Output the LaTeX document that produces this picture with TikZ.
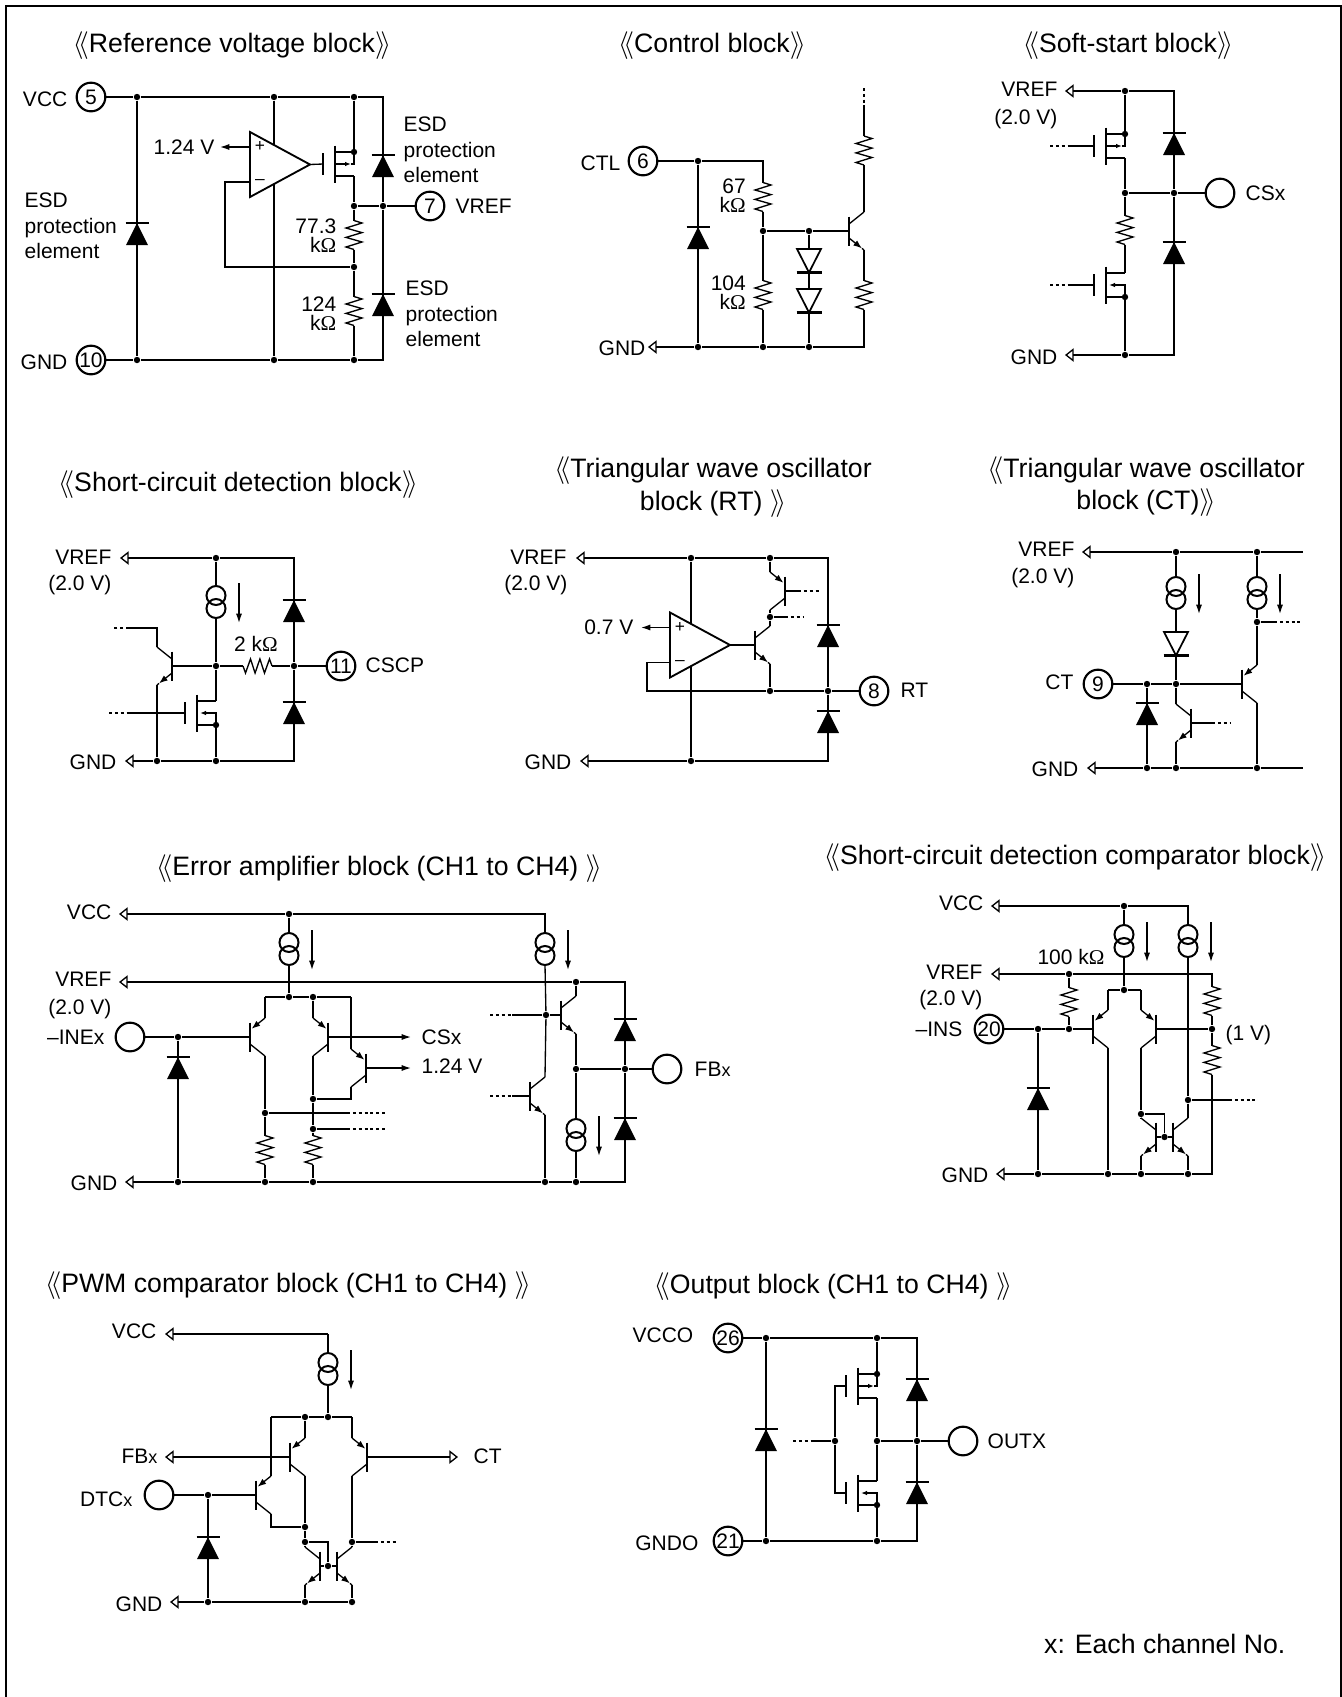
\documentclass[tikz,border=0pt]{standalone}
\usepackage{fontspec}
\setmainfont{Liberation Sans}
\newfontfamily\serfont{Liberation Serif}
\usetikzlibrary{arrows.meta}
\newcommand\lblfont{\fontsize{15.75}{19}\selectfont}
\newcommand\ttlfont{\fontsize{20}{24}\selectfont}
\newcommand\lchev{$\langle\mkern-3.5mu\langle$}
\newcommand\rchev{$\rangle\mkern-3.5mu\rangle$}
\newcommand\ohmsym{{\serfont Ω}}
\newcommand\smx{{\fontsize{13.5}{13.5}\selectfont x}}
\newcommand\Jn[2]{\node[jdot] (#1) at (#2) {};}
\newcommand\Cn[2]{\coordinate (#1) at (#2);}
\tikzset{
 solidtip/.tip={Latex[length=7pt,width=4.6pt]},
 leadtip/.tip={Latex[length=6.5pt,width=4.8pt]},
 mostip/.tip={Latex[length=4.5pt,width=3.4pt]},
 opentip/.tip={Triangle[open,length=6.5pt,width=10pt]},
 jdot/.style={circle,fill=black,inner sep=0pt,minimum size=4.8pt},
 pinc/.style={circle,draw,line width=1.6pt,inner sep=0pt,minimum size=21.5pt,font=\lblfont,text height=11.3pt,text depth=0pt},
 lbl/.style={inner sep=0pt,font=\lblfont,text height=11.3pt,text depth=0pt},
 ttl/.style={inner sep=0pt,font=\ttlfont,text height=14.3pt,text depth=0pt},
 esd/.style={inner sep=0pt,font=\lblfont,align=left,anchor=west},
 rval/.style={inner sep=0pt,font=\fontsize{15.75}{14.25}\selectfont,align=right,anchor=east},
 hbar/.style={line width=1.9pt},
 dotted stub/.style={dash pattern=on 2.2pt off 2.2pt},
 pics/diode/.style={code={
   \coordinate (-k) at (0,0); \coordinate (-a) at (0,22);
   \fill (-11,22) -- (11,22) -- (0,0) -- cycle;
   \draw[hbar] (-11.5,0) -- (11.5,0);}},
 pics/diodedn/.style={code={
   \coordinate (-a) at (0,0); \coordinate (-k) at (0,23.5);
   \draw[fill=white,line width=1.3pt] (-12,0) -- (12,0) -- (0,23.5) -- cycle;
   \draw[hbar] (-12.5,23.5) -- (12.5,23.5);}},
 pics/qnpn/.style={code={
   \coordinate (-b) at (0,0); \coordinate (-c) at (15,-19); \coordinate (-e) at (15,19);
   \draw[hbar] (0,-14.5) -- (0,14.5);
   \draw (0,-7) -- (15,-19);
   \draw[-leadtip] (0,7) -- (13,17.4); \draw (13,17.4) -- (15,19);}},
 pics/qpnp/.style={code={
   \coordinate (-b) at (0,0); \coordinate (-c) at (15,-19); \coordinate (-e) at (15,19);
   \draw[hbar] (0,-14.5) -- (0,14.5);
   \draw (0,7) -- (15,19);
   \draw[-leadtip] (15,-19) -- (1.5,-8.2);}},
 pics/mosp/.style={code={
   \coordinate (-g) at (-12,0); \coordinate (-s) at (19,-12); \coordinate (-d) at (19,12);
   \draw[hbar] (-12,-11) -- (-12,11); \draw[hbar] (0,-18.5) -- (0,18.5);
   \draw (0,-12) -- (19,-12); \draw (0,12) -- (19,12);
   \draw[-mostip] (0,0) -- (16,0); \draw (16,0) -- (19,0) -- (19,-12);
   \node[jdot] (-j) at (19,-12) {};}},
 pics/mosn/.style={code={
   \coordinate (-g) at (-12,0); \coordinate (-d) at (19,-12); \coordinate (-s) at (19,12);
   \draw[hbar] (-12,-11) -- (-12,11); \draw[hbar] (0,-18.5) -- (0,18.5);
   \draw (0,-12) -- (19,-12); \draw (0,12) -- (19,12);
   \draw[-mostip] (19,12) -- (19,0) -- (3,0);
   \node[jdot] (-j) at (19,12) {};}},
 pics/resv/.style={code={
   \coordinate (-a) at (0,-14.5); \coordinate (-b) at (0,14.5);
   \draw (0,-14.5) -- (8,-12) -- (-8,-7) -- (8,-2.4) -- (-8,2.4) -- (8,7) -- (-8,12) -- (0,14.5);}},
 pics/resh/.style={code={
   \coordinate (-a) at (-14.5,0); \coordinate (-b) at (14.5,0);
   \draw (-14.5,0) -- (-12,7) -- (-7,-7) -- (-2.4,7) -- (2.4,-7) -- (7,7) -- (12,-7) -- (14.5,0);}},
 pics/csrc/.style={code={
   \coordinate (-a) at (0,-16); \coordinate (-b) at (0,16);
   \draw[line width=1.5pt] (0,-6.5) circle[radius=9.5];
   \draw[line width=1.5pt] (0,6.5) circle[radius=9.5];
   \draw[-solidtip] (23,-19) -- (23,21);}},
 pics/opamp/.style={code={
   \coordinate (-p) at (0,-17.5); \coordinate (-n) at (0,17.5); \coordinate (-o) at (60,0);
   \draw[fill=white,line width=1.4pt] (0,-32.5) -- (60,0) -- (0,32.5) -- cycle;
   \node[inner sep=0pt,font=\fontsize{13}{13}\selectfont] (-pl) at (10,-18) {+};
   \node[inner sep=0pt,font=\fontsize{13}{13}\selectfont] (-mi) at (10,17.5) {–};}},
}
\begin{document}
\begin{tikzpicture}[x=0.75pt,y=-0.75pt,line width=1pt]
\useasboundingbox (0,0) rectangle (1342,1697);
\fill[white] (0,0) rectangle (1342,1697);
\Cn{fr1}{6,1697}\Cn{fr2}{6,6}\Cn{fr3}{1341,6}\Cn{fr4}{1341,1697}
\draw[line width=1.5pt] (fr1) -- (fr2) -- (fr3) -- (fr4);

%% ---------- Reference voltage block
\node[ttl] (t1) at (232,43) {\lchev Reference voltage block\rchev};
\node[lbl,anchor=east] (a_vcc) at (68,99) {VCC};
\node[lbl,anchor=east] (a_gnd) at (68,362) {GND};
\node[pinc] (a5) at (91,97) {5};
\node[pinc] (a10) at (91,360) {10};
\Jn{a1}{137,97}\Jn{a2}{274,97}\Jn{a3}{354,97}\Cn{a4}{383,97}
\Jn{b1}{137,360}\Jn{b2}{274,360}\Jn{b3}{354,360}\Cn{b4}{383,360}
\Jn{a6}{354,206}\Jn{a7}{383,206}\Jn{a8}{354,267}\Cn{a9}{225,267}
\node[pinc] (a_p7) at (430,206) {7};
\node[lbl,anchor=west] (a_vref) at (455,206) {VREF};
\draw (a5) -- (a1) -- (a2) -- (a3) -- (a4) -- (a7) -- (b4) -- (b3) -- (b2) -- (b1) -- (a10);
\draw (a1) -- (b1);
\draw (a2) -- (b2);
\pic (aop) at (250,164.5) {opamp};
\pic (am) at (335,164) {mosp};
\pic (ad1) at (137,223) {diode};
\pic (ad2) at (383,155) {diode};
\pic (ad3) at (383,294) {diode};
\pic (ar1) at (354,235) {resv};
\pic (ar2) at (354,311) {resv};
\draw (aop-o) -- (am-g);
\draw (a3) -- (am-s);
\draw (am-d) -- (a6);
\draw (a6) -- (ar1-a);
\draw (ar1-b) -- (a8) -- (ar2-a);
\draw (ar2-b) -- (b3);
\draw (a6) -- (a7) -- (a_p7);
\draw (aop-n) -| (a9) -- (a8);
\node[lbl,anchor=east] (a124) at (215,147) {1.24 V};
\Cn{a124t}{220,147}
\draw[-solidtip] (aop-p) -- (a124t);
\node[esd] (e1) at (24,226) {ESD\\protection\\element};
\node[esd] (e2) at (403,150) {ESD\\protection\\element};
\node[esd] (e3) at (405,314) {ESD\\protection\\element};
\node[rval] (rv1) at (337,236) {77.3\\k\ohmsym};
\node[rval] (rv2) at (337,314) {124\\k\ohmsym};

%% ---------- Control block
\node[ttl] (t2) at (712,43) {\lchev Control block\rchev};
\node[lbl,anchor=east] (c_ctl) at (621,163) {CTL};
\node[pinc] (c_p6) at (643,161) {6};
\node[lbl,anchor=east] (c_gnd) at (646,348) {GND};
\Jn{c1}{698,161}\Cn{c2}{763,161}\Jn{c3}{763,231}\Jn{c4}{809,231}
\Cn{c0}{648,347}\Jn{c5}{698,347}\Jn{c6}{763,347}\Jn{c7}{809,347}\Cn{c8}{864,347}
\Cn{c9}{864,88}\Cn{c10}{864,105}
\pic (cq) at (849,231) {qnpn};
\pic (cd1) at (698,227) {diode};
\pic (cd2) at (809,249) {diodedn};
\pic (cd3) at (809,289) {diodedn};
\pic (cr1) at (763,197) {resv};
\pic (cr2) at (763,295) {resv};
\pic (cr3) at (864,150.5) {resv};
\pic (cr4) at (864,295) {resv};
\draw (c_p6) -- (c1) -- (c2) -- (cr1-a);
\draw (cr1-b) -- (c3) -- (cr2-a);
\draw (cr2-b) -- (c6);
\draw (c1) -- (c5);
\draw (c3) -- (c4) -- (cq-b);
\draw (c4) -- (cd2-a);
\draw (cd2-k) -- (cd3-a);
\draw (cd3-k) -- (c7);
\draw[dotted stub] (c9) -- (c10);
\draw (c10) -- (cr3-a);
\draw (cr3-b) -- (cq-c);
\draw (cq-e) -- (cr4-a);
\draw (cr4-b) -- (c8) -- (c7) -- (c6) -- (c5);
\draw[-opentip] (c5) -- (c0);
\node[rval] (rv3) at (746.5,196) {67\\k\ohmsym};
\node[rval] (rv4) at (746.5,293) {104\\k\ohmsym};

%% ---------- Soft-start block
\node[ttl] (t3) at (1128,43) {\lchev Soft-start block\rchev};
\node[lbl,anchor=east] (e_vref) at (1058,89) {VREF};
\node[lbl,anchor=east] (e_v) at (1058,117) {(2.0 V)};
\node[lbl,anchor=east] (e_gnd) at (1058,357) {GND};
\Cn{e0}{1065,91}\Jn{e1x}{1125,91}\Cn{e2x}{1174,91}
\Jn{e3x}{1125,193}\Jn{e4x}{1174,193}
\node[pinc] (e_p) at (1220,193) {};
\node[lbl,anchor=west] (e_cs) at (1245,193) {CSx};
\Jn{e6x}{1125,355}\Cn{e7x}{1174,355}\Cn{e8x}{1065,355}
\pic (em1) at (1106,146) {mosp};
\pic (em2) at (1106,285) {mosn};
\pic (er) at (1125,230) {resv};
\pic (ed1) at (1174,133) {diode};
\pic (ed2) at (1174,242) {diode};
\Cn{eg1}{1050,146}\Cn{eg2}{1070,146}\Cn{eg3}{1050,285}\Cn{eg4}{1070,285}
\draw[-opentip] (e1x) -- (e0);
\draw (e1x) -- (e2x) -- (e4x) -- (e7x) -- (e6x);
\draw[-opentip] (e6x) -- (e8x);
\draw (e1x) -- (em1-s);
\draw (em1-d) -- (e3x) -- (er-a);
\draw (er-b) -- (em2-d);
\draw (em2-s) -- (e6x);
\draw (e3x) -- (e4x) -- (e_p);
\draw[dotted stub] (eg1) -- (eg2);\draw (eg2) -- (em1-g);
\draw[dotted stub] (eg3) -- (eg4);\draw (eg4) -- (em2-g);

%% ---------- Short-circuit detection block
\node[ttl] (t4) at (238,482) {\lchev Short-circuit detection block\rchev};
\node[lbl,anchor=east] (f_vref) at (112,557) {VREF};
\node[lbl,anchor=east] (f_v) at (112,583) {(2.0 V)};
\node[lbl,anchor=east] (f_gnd) at (117,762) {GND};
\node[lbl] (f_r) at (256,644) {2 k\ohmsym};
\node[lbl,anchor=west] (f_cscp) at (365,665) {CSCP};
\Cn{f0}{120,558}\Jn{f1}{216,558}\Cn{f2}{294,558}
\Jn{f3}{216,666}\Jn{f4}{294,666}
\node[pinc] (f5) at (341,666) {11};
\Cn{f6}{125,761}\Jn{f7}{157,761}\Jn{f8}{216,761}\Cn{f9}{294,761}
\Cn{fc1}{157,628}\Cn{fc2}{129,628}\Cn{fc3}{112,628}
\Cn{fg1}{109,713}\Cn{fg2}{130,713}
\pic (fcs) at (216,602) {csrc};
\pic (fres) at (257.5,666) {resh};
\pic[xscale=-1] (fq) at (172,666) {qnpn};
\pic (fm) at (197,713) {mosn};
\pic (fd1) at (294,600) {diode};
\pic (fd2) at (294,702) {diode};
\draw[-opentip] (f1) -- (f0);
\draw (f1) -- (f2) -- (f4) -- (f9) -- (f8) -- (f7);
\draw[-opentip] (f7) -- (f6);
\draw (f1) -- (fcs-a);
\draw (fcs-b) -- (f3) -- (fm-d);
\draw (fm-s) -- (f8);
\draw (fq-b) -- (f3) -- (fres-a);
\draw (fres-b) -- (f4) -- (f5);
\draw (fq-c) -- (fc1) -- (fc2);
\draw[dotted stub] (fc2) -- (fc3);
\draw (fq-e) -- (f7);
\draw[dotted stub] (fg1) -- (fg2);\draw (fg2) -- (fm-g);

%% ---------- Triangular wave oscillator block (RT)
\node[ttl] (t5a) at (713,468) {\lchev Triangular wave oscillator};
\node[ttl] (t5b) at (713,501) {block (RT) \rchev};
\node[lbl,anchor=east] (g_vref) at (567,557) {VREF};
\node[lbl,anchor=east] (g_v) at (568,583) {(2.0 V)};
\node[lbl,anchor=east] (g_gnd) at (572,762) {GND};
\node[lbl,anchor=east] (g_07) at (634,627) {0.7 V};
\node[lbl,anchor=west] (g_rt) at (900,690) {RT};
\Cn{g0}{576,558}\Jn{g1}{691,558}\Jn{g2}{770,558}\Cn{g3}{828,558}
\Jn{g4}{691,761}\Jn{g5}{770,617}\Jn{g6}{770,691}\Jn{g7}{828,691}
\node[pinc] (g8) at (874,691) {8};
\Cn{g9}{647,691}\Cn{g10}{580,761}\Cn{g11}{828,761}\Cn{g12}{641,627.5}
\Cn{gb1}{798,591}\Cn{gb2}{820,591}\Cn{gb3}{785,617}\Cn{gb4}{804,617}
\draw (g1) -- (g4);
\pic (gop) at (670,645) {opamp};
\pic[xscale=-1] (gq1) at (785,591) {qpnp};
\pic (gq2) at (755,645) {qnpn};
\pic (gd1) at (828,625) {diode};
\pic (gd2) at (828,711) {diode};
\draw[-opentip] (g1) -- (g0);
\draw (g1) -- (g2) -- (g3) -- (g7) -- (g11) -- (g4);
\draw[-opentip] (g4) -- (g10);
\draw (g2) -- (gq1-c);
\draw (gq1-e) -- (g5) -- (gq2-c);
\draw (gq2-e) -- (g6);
\draw (gop-o) -- (gq2-b);
\draw (gop-n) -| (g9) -- (g6) -- (g7) -- (g8);
\draw[-solidtip] (gop-p) -- (g12);
\draw (gq1-b) -- (gb1);\draw[dotted stub] (gb1) -- (gb2);
\draw (g5) -- (gb3);\draw[dotted stub] (gb3) -- (gb4);

%% ---------- Triangular wave oscillator block (CT)
\node[ttl] (t6a) at (1146,468) {\lchev Triangular wave oscillator};
\node[ttl] (t6b) at (1146,500) {block (CT)\rchev};
\node[lbl,anchor=east] (h_vref) at (1075,549) {VREF};
\node[lbl,anchor=east] (h_v) at (1075,576) {(2.0 V)};
\node[lbl,anchor=east] (h_ct) at (1074,682) {CT};
\node[lbl,anchor=east] (h_gnd) at (1079,769) {GND};
\Cn{h0}{1082,552}\Jn{h1}{1176,552}\Jn{h2}{1257,552}\Cn{h3}{1303,552}
\node[pinc] (h4) at (1098,684) {9};
\Jn{h5}{1147,684}\Jn{h6}{1176,684}\Jn{h7}{1257,622}\Cn{h8}{1274,622}\Cn{h9}{1303,622}
\Cn{h10}{1087,768}\Jn{h11}{1147,768}\Jn{h13}{1176,768}\Jn{h12}{1257,768}\Cn{h14}{1303,768}
\Cn{hb1}{1212,723}\Cn{hb2}{1230,723}
\pic (hcs1) at (1176,593) {csrc};
\pic (hcs2) at (1257,593) {csrc};
\pic (hd1) at (1176,632) {diodedn};
\pic (hd2) at (1147,703) {diode};
\pic[xscale=-1] (hq1) at (1191,723) {qnpn};
\pic (hq2) at (1242,684) {qpnp};
\draw[-opentip] (h1) -- (h0);
\draw (h1) -- (h2) -- (h3);
\draw (h1) -- (hcs1-a);
\draw (hcs1-b) -- (hd1-a);
\draw (hd1-k) -- (h6);
\draw (h2) -- (hcs2-a);
\draw (hcs2-b) -- (h7) -- (hq2-c);
\draw (h7) -- (h8);\draw[dotted stub] (h8) -- (h9);
\draw (h4) -- (h5) -- (h6) -- (hq2-b);
\draw (h5) -- (h11);
\draw (h6) -- (hq1-c);
\draw (hq1-e) -- (h13);
\draw (hq2-e) -- (h12);
\draw (hq1-b) -- (hb1);\draw[dotted stub] (hb1) -- (hb2);
\draw[-opentip] (h11) -- (h10);
\draw (h11) -- (h13) -- (h12) -- (h14);

%% ---------- Error amplifier block
\node[ttl] (t7) at (379,866) {\lchev Error amplifier block (CH1 to CH4) \rchev};
\node[lbl,anchor=east] (i_vcc) at (112,912) {VCC};
\node[lbl,anchor=east] (i_vref) at (112,979) {VREF};
\node[lbl,anchor=east] (i_v) at (112,1007) {(2.0 V)};
\node[lbl,anchor=east] (i_ine) at (105,1037) {–INEx};
\node[lbl,anchor=east] (i_gnd) at (118,1183) {GND};
\node[lbl,anchor=west] (i_cs) at (421,1037) {CSx};
\node[lbl,anchor=west] (i_124) at (421,1066) {1.24 V};
\node[lbl,anchor=west] (i_fb) at (694,1069) {FB\smx};
\Cn{i0}{119,914}\Jn{i1}{289,914}\Cn{i2}{545,914}
\Jn{i3}{289,997}\Cn{i4}{265,997}\Jn{i5}{313,997}\Cn{i6}{351,997}
\Cn{i7}{119,982}\Jn{i8}{576,982}\Cn{i9}{625,982}
\node[pinc] (i10) at (130,1037) {};
\Jn{i11}{178,1037}
\Jn{i13}{313,1099}\Cn{i12}{351,1099}\Jn{i14}{313,1129}\Jn{i15}{313,1182}
\Jn{i16}{265,1113}\Jn{i17}{265,1182}
\Cn{i18}{411,1037}\Cn{i19}{411,1068}
\Jn{i20}{546,1015}\Cn{i21}{490,1015}\Cn{i22}{512,1015}\Cn{i23}{490,1096}\Cn{i24}{512,1096}
\Jn{i25}{576,1069}\Jn{i26}{576,1182}\Jn{i27}{625,1069}
\node[pinc] (i28) at (667,1069) {};
\Cn{i29}{125,1182}\Jn{i30}{178,1182}\Jn{i31}{545,1182}\Cn{i32}{625,1182}
\Cn{is1}{347,1113}\Cn{is2}{386,1113}\Cn{is3}{347,1129}\Cn{is4}{386,1129}
\pic (ics1) at (289,949) {csrc};
\pic (ics2) at (545,949) {csrc};
\pic (ics3) at (576,1135) {csrc};
\pic (iq1) at (250,1037) {qpnp};
\pic[xscale=-1] (iq2) at (328,1037) {qpnp};
\pic[xscale=-1] (iq3) at (366,1068) {qpnp};
\pic (iq4) at (561,1015) {qnpn};
\pic (iq5) at (530,1096) {qnpn};
\pic (ires1) at (265,1150) {resv};
\pic (ires2) at (313,1150) {resv};
\pic (id1) at (178,1057) {diode};
\pic (id2) at (625,1019) {diode};
\pic (id3) at (625,1118) {diode};
\draw[-opentip] (i1) -- (i0);
\draw (i1) -- (i2) -- (ics2-a);
\draw (i1) -- (ics1-a);
\draw (ics1-b) -- (i3);
\draw[-opentip] (i8) -- (i7);
\draw (i8) -- (i9) -- (i27) -- (i32) -- (i26) -- (i31) -- (i15) -- (i17) -- (i30);
\draw[-opentip] (i30) -- (i29);
\draw (i4) -- (i3) -- (i5) -- (i6);
\draw (i10) -- (i11) -- (iq1-b);
\draw (i11) -- (i30);
\draw (i4) -- (iq1-c);
\draw (i5) -- (iq2-c);
\draw (i6) -- (iq3-c);
\draw (iq3-e) -- (i12) -- (i13);
\draw (iq2-e) -- (i13) -- (i14) -- (ires2-a);
\draw (ires2-b) -- (i15);
\draw (iq1-e) -- (i16) -- (ires1-a);
\draw (ires1-b) -- (i17);
\draw (i16) -- (is1);\draw[dotted stub] (is1) -- (is2);
\draw (i14) -- (is3);\draw[dotted stub] (is3) -- (is4);
\draw[-solidtip] (iq2-b) -- (i18);
\draw[-solidtip] (iq3-b) -- (i19);
\draw (ics2-b) -- (i20) -- (iq5-c);
\draw (i22) -- (i20) -- (iq4-b);
\draw[dotted stub] (i21) -- (i22);
\draw[dotted stub] (i23) -- (i24);\draw (i24) -- (iq5-b);
\draw (i8) -- (iq4-c);
\draw (iq4-e) -- (i25) -- (ics3-a);
\draw (ics3-b) -- (i26);
\draw (iq5-e) -- (i31);
\draw (i25) -- (i27) -- (i28);

%% ---------- Short-circuit detection comparator block
\node[ttl] (t8) at (1075,855) {\lchev Short-circuit detection comparator block\rchev};
\node[lbl,anchor=east] (k_vcc) at (984,903) {VCC};
\node[lbl,anchor=east] (k_vref) at (983,972) {VREF};
\node[lbl,anchor=east] (k_v) at (983,998) {(2.0 V)};
\node[lbl,anchor=east] (k_ins) at (963,1029) {–INS};
\node[lbl,anchor=east] (k_gnd) at (989,1175) {GND};
\node[lbl] (k_r) at (1071,957) {100 k\ohmsym};
\node[lbl,anchor=west] (k_1v) at (1225,1033) {(1 V)};
\Cn{k0}{991,906}\Jn{k1}{1124,906}\Cn{k2}{1188,906}
\Cn{k3}{991,974}\Jn{k4}{1069,974}\Cn{k5}{1212,974}
\Jn{k6}{1069,1029}
\node[pinc] (k7) at (989,1029) {20};
\Jn{k8}{1038,1029}
\Cn{k9}{1108,990}\Jn{k10}{1124,990}\Cn{k11}{1141,990}
\Jn{k12}{1212,1029}\Cn{k13}{1212,1174}
\Jn{k14}{1188,1100}\Cn{ks1}{1229,1100}\Cn{ks2}{1256,1100}
\Jn{k15}{1141,1114}\Cn{k16}{1164.5,1114}\Jn{k17}{1164.5,1137}
\Cn{k18}{996,1174}\Jn{k19}{1038,1174}\Jn{k20}{1108,1174}\Jn{k21}{1141,1174}\Jn{k22}{1188,1174}
\pic (kcs1) at (1124,941) {csrc};
\pic (kcs2) at (1188,941) {csrc};
\pic (kr1) at (1069,1002) {resv};
\pic (kr2) at (1212,1001) {resv};
\pic (kr3) at (1212,1060) {resv};
\pic (kq1) at (1093,1029) {qpnp};
\pic[xscale=-1] (kq2) at (1156,1029) {qpnp};
\pic[xscale=-1] (kq3) at (1156,1137) {qnpn};
\pic (kq4) at (1173,1137) {qnpn};
\pic (kd) at (1038,1088) {diode};
\draw[-opentip] (k1) -- (k0);
\draw (k1) -- (k2) -- (kcs2-a);
\draw (k1) -- (kcs1-a);
\draw (kcs1-b) -- (k10);
\draw[-opentip] (k4) -- (k3);
\draw (k4) -- (k5) -- (kr2-a);
\draw (kr2-b) -- (k12) -- (kr3-a);
\draw (kr3-b) -- (k13) -- (k22) -- (k21) -- (k20) -- (k19);
\draw[-opentip] (k19) -- (k18);
\draw (k4) -- (kr1-a);
\draw (kr1-b) -- (k6);
\draw (k7) -- (k8) -- (k6) -- (kq1-b);
\draw (k8) -- (k19);
\draw (k9) -- (k10) -- (k11);
\draw (k9) -- (kq1-c);
\draw (k11) -- (kq2-c);
\draw (kq1-e) -- (k20);
\draw (kq2-e) -- (k15) -- (kq3-c);
\draw (kq2-b) -- (k12);
\draw (kcs2-b) -- (k14) -- (kq4-c);
\draw (k14) -- (ks1);\draw[dotted stub] (ks1) -- (ks2);
\draw (k15) -- (k16) -- (k17);
\draw (kq3-b) -- (k17) -- (kq4-b);
\draw (kq3-e) -- (k21);
\draw (kq4-e) -- (k22);

%% ---------- PWM comparator block
\node[ttl] (t9) at (288,1283) {\lchev PWM comparator block (CH1 to CH4) \rchev};
\node[lbl,anchor=east] (m_vcc) at (157,1331) {VCC};
\node[lbl,anchor=east] (m_fb) at (158,1456) {FB\smx};
\node[lbl,anchor=east] (m_dtc) at (133,1499) {DTC\smx};
\node[lbl,anchor=east] (m_gnd) at (163,1604) {GND};
\node[lbl,anchor=west] (m_ct) at (473,1456) {CT};
\Cn{m0}{165,1334}\Cn{m1}{328,1334}
\Jn{m2}{328,1417}\Cn{m3}{271,1417}\Jn{m4}{305,1417}\Cn{m5}{352,1417}
\Cn{m6}{165,1457}\Cn{m7}{458,1457}
\Cn{m8}{271,1527}\Jn{m9}{305,1527}\Jn{m10}{305,1542}
\node[pinc] (m11) at (159,1495) {};
\Jn{m12}{208,1495}\Jn{m13}{208,1602}
\Cn{m14}{328,1542}\Jn{m15}{328,1566}\Jn{m16}{352,1542}
\Cn{ms1}{375,1542}\Cn{ms2}{397,1542}
\Cn{m17}{170,1602}\Jn{m18}{305,1602}\Jn{m19}{352,1602}
\pic (mcs) at (328,1369) {csrc};
\pic (mq1) at (290,1457) {qpnp};
\pic[xscale=-1] (mq2) at (367,1457) {qpnp};
\pic (mq3) at (256,1495) {qpnp};
\pic[xscale=-1] (mq4) at (320,1566) {qnpn};
\pic (mq5) at (337,1566) {qnpn};
\pic (md) at (208,1537) {diode};
\draw[-opentip] (m1) -- (m0);
\draw (m1) -- (mcs-a);
\draw (mcs-b) -- (m2);
\draw (m3) -- (m4) -- (m2) -- (m5);
\draw (m4) -- (mq1-c);
\draw (m5) -- (mq2-c);
\draw (m3) -- (mq3-c);
\draw[-opentip] (mq1-b) -- (m6);
\draw[-opentip] (mq2-b) -- (m7);
\draw (mq3-e) -- (m8) -- (m9);
\draw (mq1-e) -- (m9) -- (m10);
\draw (m10) -- (m14) -- (m15);
\draw (m10) -- (mq4-c);
\draw (mq2-e) -- (m16) -- (mq5-c);
\draw (m16) -- (ms1);\draw[dotted stub] (ms1) -- (ms2);
\draw (mq4-b) -- (m15) -- (mq5-b);
\draw (mq4-e) -- (m18);
\draw (mq5-e) -- (m19);
\draw (m11) -- (m12) -- (mq3-b);
\draw (m12) -- (m13);
\draw[-opentip] (m13) -- (m17);
\draw (m13) -- (m18) -- (m19);

%% ---------- Output block
\node[ttl] (t10) at (833,1284) {\lchev Output block (CH1 to CH4) \rchev};
\node[lbl,anchor=east] (n_vcco) at (694,1335) {VCCO};
\node[lbl,anchor=east] (n_gndo) at (699,1543) {GNDO};
\node[lbl,anchor=west] (n_outx) at (987,1441) {OUTX};
\node[pinc] (n1) at (728,1338) {26};
\node[pinc] (n5) at (728,1541) {21};
\Jn{n2}{766,1338}\Jn{n3}{877,1338}\Cn{n4}{917,1338}
\Jn{n6}{766,1541}\Jn{n7}{877,1541}\Cn{n8}{917,1541}
\Jn{n9}{877,1441}\Jn{n10}{917,1441}
\node[pinc] (n11) at (963,1441) {};
\Jn{n12}{835,1441}\Cn{n13}{835,1386}\Cn{n14}{835,1493}
\Cn{n15}{793,1441}\Cn{n16}{813,1441}
\pic (nm1) at (858,1386) {mosp};
\pic (nm2) at (858,1493) {mosn};
\pic (nd1) at (766,1429) {diode};
\pic (nd2) at (917,1379) {diode};
\pic (nd3) at (917,1482) {diode};
\draw (n1) -- (n2) -- (n3) -- (n4) -- (n10) -- (n8) -- (n7) -- (n6) -- (n5);
\draw (n2) -- (n6);
\draw (n3) -- (nm1-s);
\draw (nm1-d) -- (n9) -- (nm2-d);
\draw (nm2-s) -- (n7);
\draw (nm1-g) -- (n13) -- (n12) -- (n14) -- (nm2-g);
\draw[dotted stub] (n15) -- (n16);\draw (n16) -- (n12);
\draw (n9) -- (n10) -- (n11);

\node[ttl,anchor=east] (note) at (1286,1644) {x: Each channel No.};
\end{tikzpicture}
\end{document}
